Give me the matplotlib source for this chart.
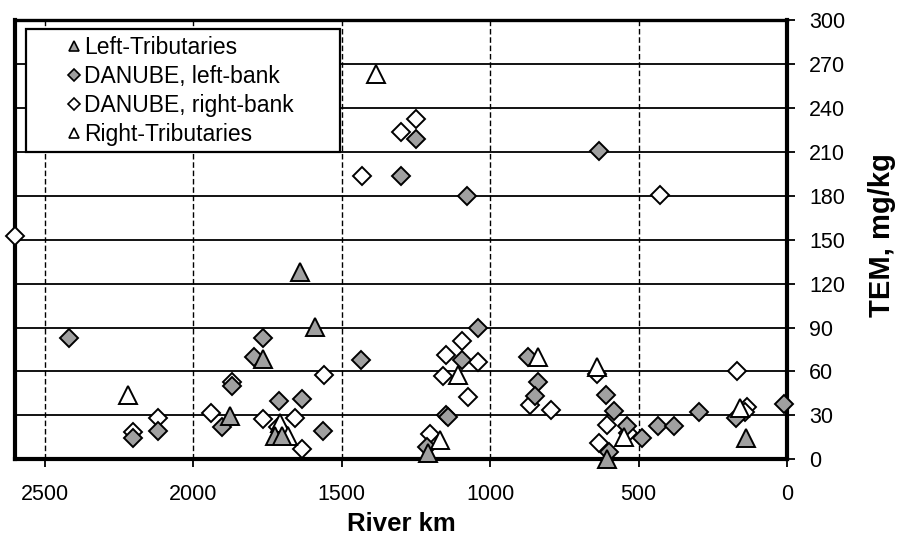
import matplotlib
matplotlib.use("Agg")
import matplotlib.pyplot as plt
from matplotlib.lines import Line2D

plt.rcParams['font.family'] = ['Liberation Sans', 'DejaVu Sans']

# ---- data (river km, TEM mg/kg) ----
left_trib_km = [1876, 1764, 1640, 1588, 1725, 1702, 1208, 605, 137]
left_trib_val = [29.5, 68.5, 128, 90.5, 16, 16, 4, 0.5, 14.5]

left_bank_km = [2418, 2204, 2120, 1903, 1868, 1795, 1764, 1710, 1633, 1564,
                1436, 1301, 1249, 1079, 1150, 1143, 1211, 1095, 1041, 871,
                837, 848, 632, 609, 582, 601, 540, 489, 433, 380, 298, 171, 11]
left_bank_val = [82.5, 14.5, 19, 22, 50, 70, 82.5, 40, 41.5, 19.5,
                 68, 193.5, 218.5, 179.5, 30, 29, 8.5, 68, 89.5, 70,
                 53, 43, 210.5, 44, 33, 5, 23, 14.5, 22.5, 22.5, 32, 28, 37.5]

right_bank_km = [2600, 2202, 2118, 1940, 1868, 1764, 1714, 1657, 1632, 1558,
                 1432, 1301, 1249, 1202, 1159, 1148, 1095, 1075, 1039, 867,
                 795, 640, 605, 632, 535, 429, 168, 135, 140]
right_bank_val = [152.5, 18.5, 28.5, 31.5, 53, 27.5, 22, 28, 7, 57.5,
                  193.5, 223.5, 232.5, 17.5, 57, 71, 80.5, 42.5, 66.5, 37,
                  33.5, 58, 23.5, 11, 18, 180.5, 60.5, 35.5, 32]

right_trib_km = [2221, 1708, 1680, 1384, 1168, 1107, 837, 640, 548, 157]
right_trib_val = [44, 25, 16, 263, 13, 57.5, 70, 63, 15.5, 35]

series_labels = ["Left-Tributaries", "DANUBE, left-bank",
                 "DANUBE, right-bank", "Right-Tributaries"]
x_ticks = [2500, 2000, 1500, 1000, 500, 0]
y_ticks = list(range(0, 301, 30))

GREY = '#a0a0a0'

fig = plt.figure(figsize=(9, 5.41), dpi=100)
ax = fig.add_axes([15/900, 1-459.3/541, (787-15)/900, (459.3-20)/541])

ax.set_xlim(2600, 0)
ax.set_ylim(0, 300)

# grid
for y in y_ticks[1:-1]:
    ax.axhline(y, color='black', lw=1.3, zorder=1)
for x in x_ticks[:-1]:
    ax.axvline(x, color='black', lw=1.0, ls=(0, (4, 2)), zorder=1)

mk = dict(ls='none', mec='black', mew=1.4, zorder=3, clip_on=False)
ax.plot(right_bank_km, right_bank_val, marker='D', ms=8.8, mfc='white', **mk)
ax.plot(left_bank_km, left_bank_val, marker='D', ms=8.8, mfc=GREY, **mk)
ax.plot(right_trib_km, right_trib_val, marker='^', ms=12.5, mfc='white', **mk)
ax.plot(left_trib_km, left_trib_val, marker='^', ms=12.5, mfc=GREY, **mk)

# axes styling
ax.yaxis.tick_right()
ax.yaxis.set_label_position('right')
ax.set_yticks(y_ticks)
ax.set_xticks(x_ticks)
ax.set_xticklabels([str(v) for v in x_ticks])
ax.tick_params(axis='y', direction='out', length=6, width=1.3, labelsize=15.5, pad=10)
ax.tick_params(axis='x', direction='out', length=6, width=1.3, labelsize=15.5, pad=12)
for lab in ax.get_yticklabels():
    lab.set_horizontalalignment('left')

for side in ['left', 'bottom', 'right']:
    ax.spines[side].set_linewidth(3)
ax.spines['top'].set_linewidth(2.4)

ax.set_xlabel("River km", fontsize=18.5, fontweight='bold', labelpad=5)
ax.set_ylabel("TEM, mg/kg", fontsize=21, fontweight='bold')
ax.yaxis.set_label_coords((868 - 15) / 772, 0.51)

handles = [
    Line2D([], [], ls='none', marker='^', ms=7.5, mfc=GREY, mec='black', mew=1.2),
    Line2D([], [], ls='none', marker='D', ms=6, mfc=GREY, mec='black', mew=1.2),
    Line2D([], [], ls='none', marker='D', ms=6, mfc='white', mec='black', mew=1.2),
    Line2D([], [], ls='none', marker='^', ms=7.5, mfc='white', mec='black', mew=1.2),
]
leg = ax.legend(handles, series_labels, loc='upper left',
                bbox_to_anchor=(11/772, 0.72, 314/772, 0.26), mode='expand',
                borderaxespad=0, fontsize=16.5, frameon=True, fancybox=False,
                edgecolor='black', framealpha=1, borderpad=0.3,
                handlelength=3.6, handletextpad=-1.35, labelspacing=0.26,
                numpoints=1)
leg.get_frame().set_linewidth(1.6)
leg.set_zorder(5)

fig.savefig("out.png", dpi=100)
